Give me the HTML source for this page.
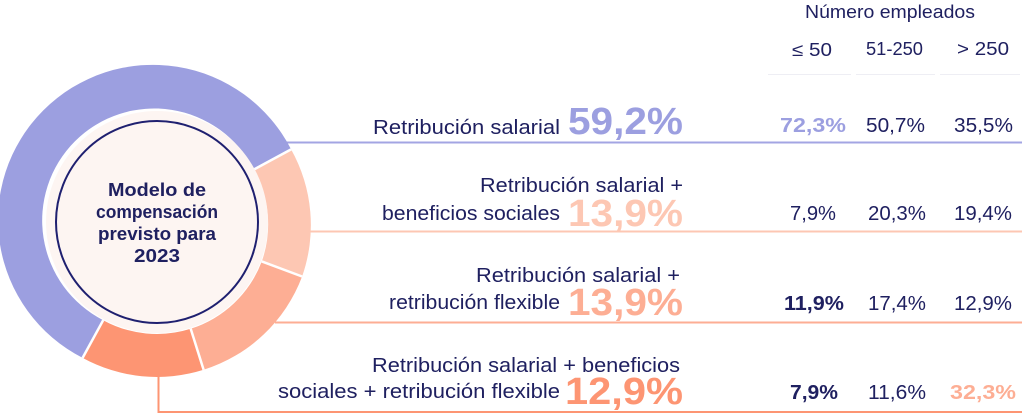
<!DOCTYPE html>
<html><head><meta charset="utf-8"><style>
body{margin:0;background:#fff;width:1024px;height:415px;overflow:hidden}
text{font-family:"Liberation Sans",sans-serif;fill:#1f2060}
</style></head><body>
<svg width="1024" height="415" viewBox="0 0 1024 415" xmlns="http://www.w3.org/2000/svg">
<line x1="285" y1="142.5" x2="1022" y2="142.5" stroke="#a3a5e3" stroke-width="2"/>
<line x1="305" y1="231.5" x2="1022" y2="231.5" stroke="#fdc7b3" stroke-width="2"/>
<line x1="275" y1="322.5" x2="1022" y2="322.5" stroke="#fdae94" stroke-width="2"/>
<polyline points="158.5,372 158.5,412 1022,412" fill="none" stroke="#fd9573" stroke-width="2"/>
<g stroke="#eeeef4" stroke-width="1">
<line x1="768" y1="74.5" x2="851" y2="74.5"/>
<line x1="856" y1="74.5" x2="935" y2="74.5"/>
<line x1="940" y1="74.5" x2="1020" y2="74.5"/>
</g>
<g transform="translate(157,222)">
<path d="M134.1,-72.6 A155,155 0 1 0 -74.4,135.9 L-53.8,98.2 A112,112 0 1 1 96.9,-52.5 Z" fill="#9c9fe0"/>
<path d="M134.1,-72.6 A155,155 0 0 1 145.1,54.5 L104.8,39.4 A112,112 0 0 0 96.9,-52.5 Z" fill="#fdc7b3"/>
<path d="M145.1,54.5 A155,155 0 0 1 46.6,147.8 L33.7,106.8 A112,112 0 0 0 104.8,39.4 Z" fill="#fdae94"/>
<path d="M46.6,147.8 A155,155 0 0 1 -74.4,135.9 L-53.8,98.2 A112,112 0 0 0 33.7,106.8 Z" fill="#fd9573"/>
<g stroke="#fff" stroke-width="2.5">
<line x1="96.9" y1="-52.5" x2="134.1" y2="-72.6"/>
<line x1="104.8" y1="39.4" x2="145.1" y2="54.5"/>
<line x1="33.7" y1="106.8" x2="46.6" y2="147.8"/>
<line x1="-53.8" y1="98.2" x2="-74.4" y2="135.9"/>
</g>
<circle r="111" fill="#fdf5f2"/>
<circle r="101" fill="none" stroke="#1f2070" stroke-width="2"/>
<g font-weight="bold" font-size="18" text-anchor="middle">
<text y="-26" textLength="98" lengthAdjust="spacingAndGlyphs">Modelo de</text>
<text y="-4" textLength="122" lengthAdjust="spacingAndGlyphs">compensación</text>
<text y="18" textLength="118" lengthAdjust="spacingAndGlyphs">previsto para</text>
<text y="40" textLength="46" lengthAdjust="spacingAndGlyphs">2023</text>
</g>
</g>
<text x="805" y="18" font-size="18" textLength="170" lengthAdjust="spacingAndGlyphs">Número empleados</text>
<g font-size="18">
<text x="792" y="56" textLength="40" lengthAdjust="spacingAndGlyphs">≤ 50</text>
<text x="866" y="55" textLength="57" lengthAdjust="spacingAndGlyphs">51-250</text>
<text x="957" y="55" textLength="52" lengthAdjust="spacingAndGlyphs">&gt; 250</text>
</g>
<g font-size="20">
<text x="373" y="134" textLength="187" lengthAdjust="spacingAndGlyphs">Retribución salarial</text>
<text x="480" y="192" textLength="203" lengthAdjust="spacingAndGlyphs">Retribución salarial +</text>
<text x="382" y="220" textLength="178" lengthAdjust="spacingAndGlyphs">beneficios sociales</text>
<text x="476" y="282" textLength="204" lengthAdjust="spacingAndGlyphs">Retribución salarial +</text>
<text x="389" y="309" textLength="171" lengthAdjust="spacingAndGlyphs">retribución flexible</text>
<text x="372" y="372" textLength="308" lengthAdjust="spacingAndGlyphs">Retribución salarial + beneficios</text>
<text x="278" y="398" textLength="282" lengthAdjust="spacingAndGlyphs">sociales + retribución flexible</text>
</g>
<g font-size="38" font-weight="bold">
<text x="568" y="134" textLength="115" lengthAdjust="spacingAndGlyphs" style="fill:#9c9fe0">59,2%</text>
<text x="568" y="226" textLength="115" lengthAdjust="spacingAndGlyphs" style="fill:#fdc7b3">13,9%</text>
<text x="568" y="315" textLength="115" lengthAdjust="spacingAndGlyphs" style="fill:#fdae94">13,9%</text>
<text x="565" y="404" textLength="118" lengthAdjust="spacingAndGlyphs" style="fill:#fd9573">12,9%</text>
</g>
<g font-size="20">
<text x="780" y="132" font-weight="bold" textLength="66" lengthAdjust="spacingAndGlyphs" style="fill:#9c9fe0">72,3%</text>
<text x="866" y="132" textLength="59" lengthAdjust="spacingAndGlyphs">50,7%</text>
<text x="954" y="132" textLength="59" lengthAdjust="spacingAndGlyphs">35,5%</text>
<text x="790" y="220" textLength="46" lengthAdjust="spacingAndGlyphs">7,9%</text>
<text x="868" y="220" textLength="58" lengthAdjust="spacingAndGlyphs">20,3%</text>
<text x="954" y="220" textLength="58" lengthAdjust="spacingAndGlyphs">19,4%</text>
<text x="784" y="310" font-weight="bold" textLength="60" lengthAdjust="spacingAndGlyphs">11,9%</text>
<text x="868" y="310" textLength="58" lengthAdjust="spacingAndGlyphs">17,4%</text>
<text x="954" y="310" textLength="58" lengthAdjust="spacingAndGlyphs">12,9%</text>
<text x="790" y="399" font-weight="bold" textLength="48" lengthAdjust="spacingAndGlyphs">7,9%</text>
<text x="868" y="399" textLength="58" lengthAdjust="spacingAndGlyphs">11,6%</text>
<text x="950" y="399" font-weight="bold" textLength="66" lengthAdjust="spacingAndGlyphs" style="fill:#fdae94">32,3%</text>
</g>
</svg>
</body></html>
